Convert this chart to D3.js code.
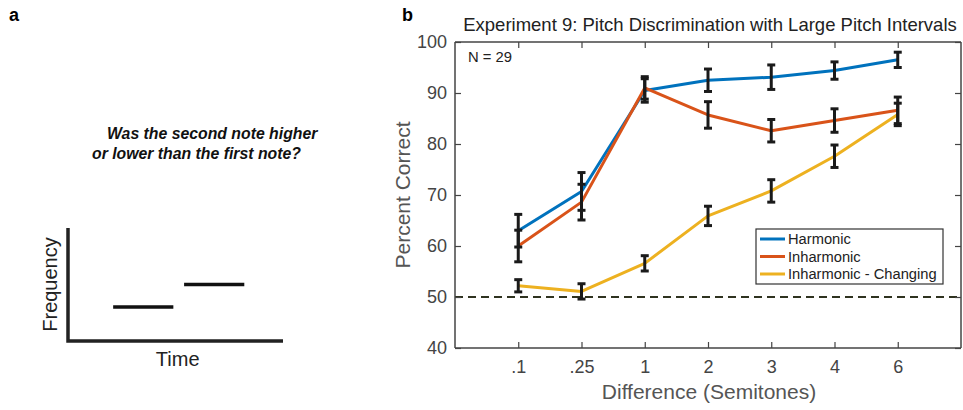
<!DOCTYPE html>
<html>
<head>
<meta charset="utf-8">
<script src="https://cdn.jsdelivr.net/npm/d3@7"></script>
<style>
  body { margin: 0; background: #fff; }
  svg { display: block; font-family: "Liberation Sans", Arial, Helvetica, sans-serif; }
</style>
</head>
<body>
<svg id="fig" width="963" height="410"></svg>
<script>
// datos
const categorias = [".1", ".25", "1", "2", "3", "4", "6"];
const yTicks = [40, 50, 60, 70, 80, 90, 100];

const harmonic = [63.0, 70.7, 90.5, 92.5, 93.1, 94.4, 96.5];
const harmonicErr = [3.2, 3.7, 2.3, 2.2, 2.4, 1.7, 1.5];
const inharmonic = [60.0, 68.6, 91.0, 85.7, 82.6, 84.6, 86.6];
const inharmonicErr = [3.1, 3.5, 2.2, 2.6, 2.2, 2.3, 2.6];
const changing = [52.2, 51.1, 56.6, 65.9, 70.8, 77.6, 85.8];
const changingErr = [1.2, 1.5, 1.5, 1.9, 2.2, 2.2, 2.2];

const seriesNames = ["Harmonic", "Inharmonic", "Inharmonic - Changing"];
const seriesColors = ["#0072BD", "#D95319", "#EDB120"];

const chance = 50;

// panel a: notas esquemáticas (tiempo inicio, fin, frecuencia)
const notes = [
  { t0: 0.21, t1: 0.49, f: 0.30 },
  { t0: 0.54, t1: 0.82, f: 0.50 }
];

const svg = d3.select('#fig');

// ---------- Panel a ----------
svg.append('text').attr('x', 9).attr('y', 21)
   .attr('font-size', '18px').attr('font-weight', 'bold').text('a');

const question = svg.append('text')
   .attr('font-size', '15.8px').attr('font-weight', 'bold').attr('font-style', 'italic')
   .attr('fill', '#111');
question.append('tspan').attr('x', 107).attr('y', 139).text('Was the second note higher');
question.append('tspan').attr('x', 92).attr('y', 159).text('or lower than the first note?');

const tx = d3.scaleLinear().domain([0, 1]).range([68, 283]);
const fy = d3.scaleLinear().domain([0, 1]).range([341, 228]);

svg.append('path')
   .attr('d', `M${tx(0)},${fy(1)} L${tx(0)},${fy(0)} L${tx(1)},${fy(0)}`)
   .attr('fill', 'none').attr('stroke', '#222').attr('stroke-width', 3.5);

svg.selectAll('.note')
   .data(notes)
   .enter().append('line')
   .attr('class', 'note')
   .attr('x1', d => tx(d.t0)).attr('x2', d => tx(d.t1))
   .attr('y1', d => fy(d.f)).attr('y2', d => fy(d.f))
   .attr('stroke', '#111').attr('stroke-width', 3.5);

svg.append('text')
   .attr('transform', `translate(57, ${fy(0.5)}) rotate(-90)`)
   .attr('text-anchor', 'middle').attr('font-size', '20px').attr('fill', '#222')
   .text('Frequency');
svg.append('text')
   .attr('x', tx(0.51)).attr('y', 366)
   .attr('text-anchor', 'middle').attr('font-size', '20px').attr('fill', '#222')
   .text('Time');

// ---------- Panel b ----------
svg.append('text').attr('x', 402).attr('y', 21)
   .attr('font-size', '18px').attr('font-weight', 'bold').text('b');

const mLeft = 455, mRight = 961, mTop = 42, mBottom = 348;

const x = d3.scalePoint().domain(categorias).range([mLeft, mRight]).padding(1);
const y = d3.scaleLinear().domain([40, 100]).range([mBottom, mTop]);

svg.append('text')
   .attr('x', (mLeft + mRight) / 2 + 2).attr('y', 31)
   .attr('text-anchor', 'middle').attr('font-size', '18.5px').attr('fill', '#222')
   .text('Experiment 9: Pitch Discrimination with Large Pitch Intervals');

// línea de azar
svg.append('line')
   .attr('x1', mLeft).attr('x2', mRight)
   .attr('y1', y(chance)).attr('y2', y(chance))
   .attr('stroke', '#2f3320').attr('stroke-width', 2)
   .attr('stroke-dasharray', '8,5');

// ejes
const axisColor = '#444';
const xAxis = svg.append('g')
   .attr('transform', `translate(0, ${mBottom})`)
   .call(d3.axisBottom(x).tickSize(-6).tickPadding(12));
const yAxis = svg.append('g')
   .attr('transform', `translate(${mLeft}, 0)`)
   .call(d3.axisLeft(y).tickValues(yTicks).tickSize(-6).tickPadding(8));
const xTop = svg.append('g')
   .attr('transform', `translate(0, ${mTop})`)
   .call(d3.axisTop(x).tickSize(-6).tickFormat(''));
const yRight = svg.append('g')
   .attr('transform', `translate(${mRight}, 0)`)
   .call(d3.axisRight(y).tickValues(yTicks).tickSize(-6).tickFormat(''));

[xAxis, yAxis, xTop, yRight].forEach(g => {
  g.select('.domain').attr('stroke', axisColor).attr('stroke-width', 1.5);
  g.selectAll('.tick line').attr('stroke', axisColor).attr('stroke-width', 1.2);
  g.selectAll('.tick text').attr('fill', '#444').attr('font-size', '18px')
   .attr('font-family', '"Liberation Sans", Arial, Helvetica, sans-serif');
});
// dominios en coordenadas locales de cada grupo
xTop.select('.domain').attr('d', `M${mLeft},0H${mRight}`);
xAxis.select('.domain').attr('d', `M${mLeft},0H${mRight}`);
yAxis.select('.domain').attr('d', `M0,${mBottom}V${mTop}`);
yRight.select('.domain').attr('d', `M0,${mBottom}V${mTop}`);

svg.append('text')
   .attr('transform', `translate(410, ${(mTop + mBottom) / 2}) rotate(-90)`)
   .attr('text-anchor', 'middle').attr('font-size', '21px').attr('fill', '#555')
   .text('Percent Correct');
svg.append('text')
   .attr('x', (mLeft + mRight) / 2 + 1).attr('y', 399)
   .attr('text-anchor', 'middle').attr('font-size', '21px').attr('fill', '#555')
   .text('Difference (Semitones)');

svg.append('text').attr('x', 468).attr('y', 62)
   .attr('font-size', '14.8px').attr('fill', '#222').text('N = 29');

// series
const series = [
  { name: seriesNames[0], values: harmonic, err: harmonicErr, color: seriesColors[0] },
  { name: seriesNames[1], values: inharmonic, err: inharmonicErr, color: seriesColors[1] },
  { name: seriesNames[2], values: changing, err: changingErr, color: seriesColors[2] }
];

const line = d3.line()
   .x((d, i) => x(categorias[i]))
   .y(d => y(d));

series.forEach(s => {
  svg.append('path')
     .datum(s.values)
     .attr('fill', 'none')
     .attr('stroke', s.color)
     .attr('stroke-width', 3)
     .attr('stroke-linejoin', 'round')
     .attr('d', line);
});

// barras de error
const capW = 4;
series.forEach(s => {
  const g = svg.append('g');
  s.values.forEach((v, i) => {
    const cx = x(categorias[i]);
    const y0 = y(v - s.err[i]), y1 = y(v + s.err[i]);
    g.append('line').attr('x1', cx).attr('x2', cx).attr('y1', y0).attr('y2', y1)
     .attr('stroke', '#1a1a1a').attr('stroke-width', 3);
    [y0, y1].forEach(yy => {
      g.append('line').attr('x1', cx - capW).attr('x2', cx + capW).attr('y1', yy).attr('y2', yy)
       .attr('stroke', '#1a1a1a').attr('stroke-width', 3);
    });
  });
});

// leyenda
const legend = svg.append('g').attr('transform', 'translate(756, 229)');
legend.append('rect').attr('width', 187).attr('height', 55)
   .attr('fill', '#fff').attr('stroke', '#333').attr('stroke-width', 1.2);
series.forEach((s, i) => {
  const ly = 10 + i * 17.5;
  legend.append('line').attr('x1', 4).attr('x2', 29).attr('y1', ly).attr('y2', ly)
     .attr('stroke', s.color).attr('stroke-width', 3);
  legend.append('text').attr('x', 32).attr('y', ly + 5)
     .attr('font-size', '14.7px').attr('fill', '#222').text(s.name);
});
</script>
</body>
</html>
